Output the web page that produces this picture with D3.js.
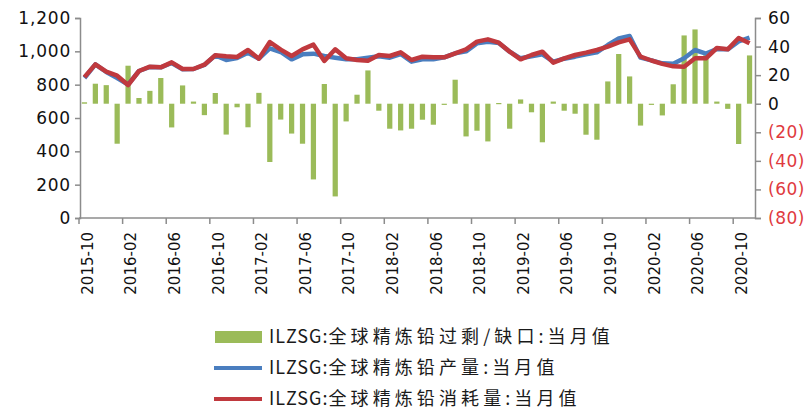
<!DOCTYPE html>
<html><head><meta charset="utf-8">
<script src="https://cdn.jsdelivr.net/npm/d3@7"></script>
<style>
html,body{margin:0;padding:0;background:#fff;}
svg{display:block;}
</style></head>
<body>
<svg id="chart" width="804" height="410"></svg>
<script>
const months = ["2015-10","2015-11","2015-12","2016-01","2016-02","2016-03","2016-04","2016-05","2016-06","2016-07","2016-08","2016-09",
"2016-10","2016-11","2016-12","2017-01","2017-02","2017-03","2017-04","2017-05","2017-06","2017-07","2017-08","2017-09",
"2017-10","2017-11","2017-12","2018-01","2018-02","2018-03","2018-04","2018-05","2018-06","2018-07","2018-08","2018-09",
"2018-10","2018-11","2018-12","2019-01","2019-02","2019-03","2019-04","2019-05","2019-06","2019-07","2019-08","2019-09",
"2019-10","2019-11","2019-12","2020-01","2020-02","2020-03","2020-04","2020-05","2020-06","2020-07","2020-08","2020-09",
"2020-10","2020-11"];
const balance = [1,14,13,-28,26.6,4,9,18,-16.6,12.8,1.5,-8,
7.5,-21.6,-2.5,-16.5,7.6,-40.8,-11.1,-20.9,-28,-53,13.8,-64.9,
-12.4,6.3,23.3,-4.9,-17.5,-18.7,-17.5,-11.2,-14.7,0,16.8,-22.9,
-18.9,-26.4,0.5,-17.5,3,-6,-27,1.5,-4.9,-7,-21.7,-25.2,
15.6,34.8,19.1,-15.3,0,-8.2,13.6,47.8,52,34,1.5,-3.6,
-28.2,33.8];
const production = [840,922,876,840,800,882,906,904,930,892,894,918,
976,948,960,992,956,1018,996,952,982,986,972,962,
952,952,962,970,962,984,938,952,952,964,988,1000,
1048,1058,1050,998,958,970,982,938,956,968,982,994,
1038,1078,1092,962,946,928,925,958,1008,986,1014,1012,
1060,1082];
const consumption = [845,922,878,854,798,882,908,904,934,894,894,920,
976,970,966,1008,956,1056,1010,972,1012,1040,942,1012,
958,948,944,978,972,994,948,968,964,964,988,1012,
1058,1072,1052,998,952,978,998,932,958,978,992,1008,
1028,1054,1072,968,945,925,910,908,958,958,1020,1012,
1080,1048];
const leftTicks = [0,200,400,600,800,1000,1200];
const rightTicks = [-80,-60,-40,-20,0,20,40,60];
const legendPrefix = "ILZSG:";
const seriesNames = ["全球精炼铅过剩/缺口:当月值","全球精炼铅产量:当月值","全球精炼铅消耗量:当月值"];
const colors = {bar:"#9bbb59", prod:"#4a7ebf", cons:"#c0393e"};

const svg = d3.select("#chart");
const X0 = 79, X1 = 755, Y0 = 218, Y1 = 18;
const x = d3.scaleBand().domain(months).range([X0, X1]).paddingInner(0.52).paddingOuter(0.26);
const xc = d => x(d) + x.bandwidth()/2;
const yL = d3.scaleLinear().domain([0,1200]).range([Y0, Y1]);
const yR = d3.scaleLinear().domain([-80,60]).range([Y0, Y1]);
const axisColor = "#8c8c8c";
const fontAxis = "'DejaVu Sans', Verdana, sans-serif";

// bars
svg.append("g").selectAll("rect").data(months).join("rect")
  .attr("x", (d) => x(d))
  .attr("width", x.bandwidth())
  .attr("y", (d,i) => yR(Math.max(0, balance[i])))
  .attr("height", (d,i) => Math.max(1.2, Math.abs(yR(balance[i]) - yR(0))))
  .attr("fill", colors.bar);

// lines
const line = (arr) => d3.line().x((d,i) => xc(months[i])).y(d => yL(d))(arr);
svg.append("path").attr("d", line(production)).attr("fill","none")
  .attr("stroke", colors.prod).attr("stroke-width", 4.5).attr("stroke-linejoin","round");
svg.append("path").attr("d", line(consumption)).attr("fill","none")
  .attr("stroke", colors.cons).attr("stroke-width", 4.5).attr("stroke-linejoin","round");

// left axis
const gL = svg.append("g").attr("transform", `translate(${X0+1},0)`)
  .call(d3.axisLeft(yL).tickValues(leftTicks).tickSize(5).tickPadding(4).tickFormat(d3.format(",")));
gL.select(".domain").attr("stroke", axisColor).attr("stroke-width",1.5);
gL.selectAll(".tick line").attr("stroke", axisColor).attr("stroke-width",1.5);
gL.selectAll("text").attr("font-family", fontAxis).attr("font-size", 17).attr("letter-spacing", 0.8).attr("fill","#111");

// right axis
const gR = svg.append("g").attr("transform", `translate(${X1},0)`)
  .call(d3.axisRight(yR).tickValues(rightTicks).tickSize(6).tickPadding(7)
    .tickFormat(d => d < 0 ? `(${-d})` : `${d}`));
gR.select(".domain").attr("stroke", axisColor).attr("stroke-width",1.5);
gR.selectAll(".tick line").attr("stroke", axisColor).attr("stroke-width",1.5);
gR.selectAll("text").attr("font-family", fontAxis).attr("font-size", 17).attr("letter-spacing", 0.5)
  .attr("fill", d => d < 0 ? "#e03a3e" : "#111");

// bottom axis
const labelMonths = months.filter((d,i) => i % 4 === 0);
const gB = svg.append("g").attr("transform", `translate(0,${Y0})`);
gB.append("line").attr("x1", X0).attr("x2", X1).attr("y1",0).attr("y2",0)
  .attr("stroke", axisColor).attr("stroke-width",1.5);
gB.selectAll("line.tk").data(labelMonths).join("line").attr("class","tk")
  .attr("x1", d => x(d) - x.step()*x.paddingInner()/2).attr("x2", d => x(d) - x.step()*x.paddingInner()/2)
  .attr("y1",0).attr("y2",6).attr("stroke", axisColor).attr("stroke-width",1.5);
gB.selectAll("text").data(labelMonths).join("text")
  .attr("transform", d => `translate(${xc(d)+3},14) rotate(-90)`)
  .attr("text-anchor","end").attr("dy","0.35em")
  .attr("font-family", fontAxis).attr("font-size", 15).attr("fill","#111")
  .text(d => d);

// legend
const lg = svg.append("g");
const rows = [
  {name: seriesNames[0], type:"rect", color: colors.bar, y: 337},
  {name: seriesNames[1], type:"line", color: colors.prod, y: 368},
  {name: seriesNames[2], type:"line", color: colors.cons, y: 399}
];
rows.forEach(r => {
  if (r.type === "rect") {
    lg.append("rect").attr("x", 215).attr("y", r.y-6).attr("width", 47).attr("height", 12).attr("fill", r.color);
  } else {
    lg.append("line").attr("x1", 214).attr("x2", 262).attr("y1", r.y).attr("y2", r.y)
      .attr("stroke", r.color).attr("stroke-width", 4);
  }
  const t = lg.append("text").attr("x", 269).attr("y", r.y).attr("dy","0.36em")
    .attr("font-family", "'Noto Sans CJK SC', 'Noto Sans', sans-serif").attr("font-size", 18)
    .attr("fill","#1a1a1a");
  t.append("tspan").attr("letter-spacing", 1).text(legendPrefix);
  t.append("tspan").attr("letter-spacing", 4.1).text(r.name);
});
</script>
</body></html>
